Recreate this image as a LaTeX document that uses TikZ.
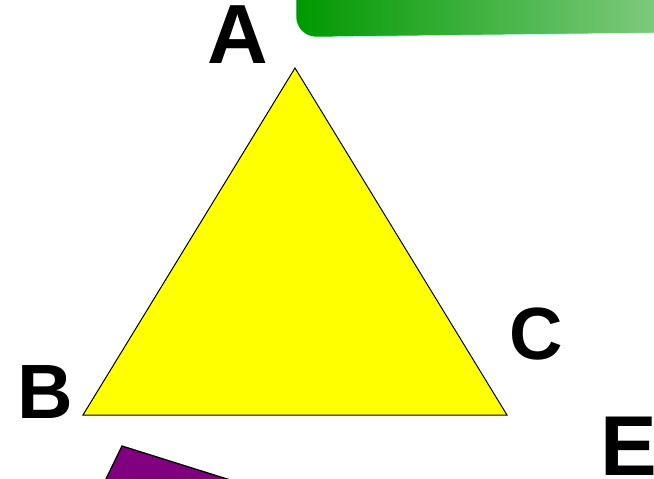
\documentclass[tikz,border=0pt]{standalone}
\usepackage{fontspec}
\setmainfont{Liberation Sans}
\definecolor{triyellow}{RGB}{255,255,0}
\definecolor{gdark}{RGB}{0,153,0}
\definecolor{glight}{RGB}{125,202,125}
\definecolor{gedge}{RGB}{200,255,255}
\definecolor{purp}{RGB}{128,0,128}
\tikzset{
  lbl/.style={inner sep=0pt, font=\bfseries\fontsize{#1}{#1}\selectfont},
}
\begin{document}
\begin{tikzpicture}[x=1pt,y=-1pt]
\useasboundingbox (0,0) rectangle (654,479);
\clip (0,0) rectangle (654,479);
% green banner
\shade[left color=gdark, right color=glight, draw=gedge, line width=0.6pt]
  (296,-2) -- (296,17) arc[start angle=180, end angle=90, radius=20] -- (656,33) -- (656,-2) -- cycle;
% purple shape
\draw[fill=purp, line width=1.3pt] (122,446) -- (332,512) -- (90,512) -- cycle;
% triangle
\coordinate (A) at (295,68);
\coordinate (B) at (83,415);
\coordinate (C) at (507,415);
\draw[fill=triyellow, line width=1pt, line join=miter] (A) -- (B) -- (C) -- cycle;
% labels
\node[lbl=84] (la) at (237.5,35) {A};
\node[lbl=77] (lb) at (45,392) {B};
\node[lbl=74] (lc) at (536,334) {C};
\node[lbl=85] (le) at (629,446) {E};
\end{tikzpicture}
\end{document}
